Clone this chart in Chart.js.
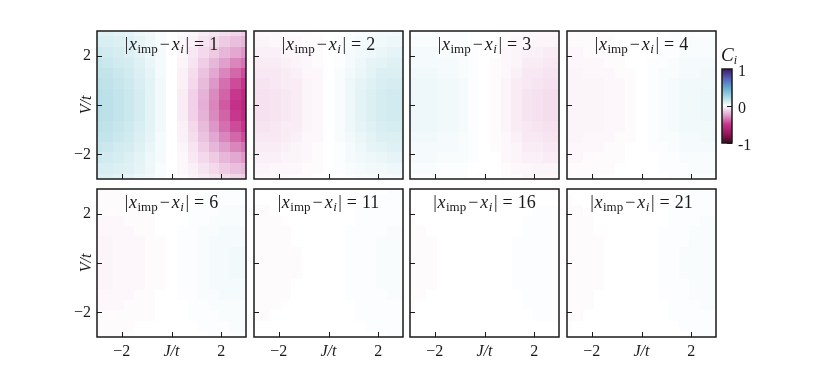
<!DOCTYPE html>
<html>
<head>
<meta charset="utf-8">
<script src="https://cdn.jsdelivr.net/npm/chart.js@4.4.0/dist/chart.umd.min.js"></script>
<style>
  html, body { margin: 0; padding: 0; background: #fff; }
  #fig { position: relative; width: 813px; height: 386px; overflow: hidden; background: #fff; }
  #fig canvas { position: absolute; }
</style>
</head>
<body>
<div id="fig"></div>
<script>
// grid points: J/t across, V/t from top row to bottom row
const jValues = [-3, -2.57, -2.14, -1.71, -1.29, -0.86, -0.43, 0, 0.43, 0.86, 1.29, 1.71, 2.14, 2.57, 3];
const vValues = [3, 2.57, 2.14, 1.71, 1.29, 0.86, 0.43, 0, -0.43, -0.86, -1.29, -1.71, -2.14, -2.57, -3];
const distances = [1, 2, 3, 4, 6, 11, 16, 21];

// C_i (rows follow vValues, columns follow jValues)
const c1 = [
  [.09,.09,.08,.07,.05,.04,.02,0,-.01,-.03,-.05,-.07,-.09,-.11,-.13],
  [.11,.11,.10,.09,.07,.05,.02,0,-.02,-.04,-.07,-.10,-.14,-.17,-.19],
  [.14,.13,.12,.10,.08,.05,.03,0,-.02,-.06,-.10,-.14,-.19,-.23,-.27],
  [.16,.15,.13,.12,.09,.06,.03,0,-.03,-.07,-.13,-.19,-.25,-.31,-.35],
  [.17,.17,.15,.13,.10,.07,.03,0,-.04,-.09,-.16,-.23,-.31,-.38,-.44],
  [.19,.18,.16,.14,.11,.08,.04,0,-.04,-.10,-.18,-.27,-.36,-.44,-.50],
  [.20,.19,.17,.15,.12,.08,.04,0,-.05,-.12,-.20,-.30,-.39,-.49,-.56],
  [.20,.19,.17,.15,.12,.08,.04,0,-.05,-.12,-.21,-.31,-.41,-.51,-.58],
  [.20,.19,.17,.15,.12,.08,.04,0,-.05,-.12,-.20,-.30,-.39,-.49,-.56],
  [.19,.18,.16,.14,.11,.08,.04,0,-.04,-.10,-.18,-.27,-.36,-.44,-.50],
  [.17,.17,.15,.13,.10,.07,.03,0,-.04,-.09,-.16,-.23,-.31,-.38,-.44],
  [.16,.15,.13,.12,.09,.06,.03,0,-.03,-.07,-.13,-.19,-.25,-.31,-.35],
  [.14,.13,.12,.10,.08,.05,.03,0,-.02,-.06,-.10,-.14,-.19,-.23,-.27],
  [.11,.11,.10,.09,.07,.05,.02,0,-.02,-.04,-.07,-.10,-.14,-.17,-.19],
  [.09,.09,.08,.07,.05,.04,.02,0,-.01,-.03,-.05,-.07,-.09,-.11,-.13]
];
const c2 = [
  [-.02,-.02,-.02,-.01,-.01,-.01,0,0,0,.01,.02,.02,.03,.03,.03],
  [-.03,-.03,-.02,-.02,-.02,-.01,-.01,0,.01,.02,.03,.04,.04,.05,.05],
  [-.04,-.04,-.04,-.03,-.03,-.02,-.01,0,.01,.03,.04,.05,.06,.07,.07],
  [-.05,-.05,-.05,-.04,-.03,-.02,-.01,0,.01,.03,.05,.07,.08,.09,.09],
  [-.06,-.06,-.06,-.05,-.04,-.02,-.02,0,.02,.04,.06,.08,.10,.10,.10],
  [-.07,-.07,-.06,-.05,-.05,-.03,-.02,0,.02,.05,.07,.09,.11,.12,.12],
  [-.08,-.08,-.07,-.06,-.05,-.03,-.02,0,.02,.05,.08,.10,.12,.13,.13],
  [-.08,-.08,-.07,-.06,-.05,-.03,-.02,0,.02,.05,.08,.10,.12,.13,.13],
  [-.08,-.08,-.07,-.06,-.05,-.03,-.02,0,.02,.05,.08,.10,.12,.13,.13],
  [-.07,-.07,-.06,-.05,-.05,-.03,-.02,0,.02,.05,.07,.09,.11,.12,.12],
  [-.06,-.06,-.06,-.05,-.04,-.02,-.02,0,.02,.04,.06,.08,.10,.10,.10],
  [-.05,-.05,-.05,-.04,-.03,-.02,-.01,0,.01,.03,.05,.07,.08,.09,.09],
  [-.04,-.04,-.04,-.03,-.03,-.02,-.01,0,.01,.03,.04,.05,.06,.07,.07],
  [-.03,-.03,-.02,-.02,-.02,-.01,-.01,0,.01,.02,.03,.04,.04,.05,.05],
  [-.02,-.02,-.02,-.01,-.01,-.01,0,0,0,.01,.02,.02,.03,.03,.03]
];
const c3 = [
  [.01,.01,.01,.01,.01,.01,0,0,0,-.01,-.01,-.02,-.02,-.02,-.02],
  [.02,.02,.02,.01,.01,.01,0,0,0,-.01,-.02,-.02,-.03,-.03,-.03],
  [.03,.03,.03,.02,.02,.02,.01,0,0,-.02,-.03,-.04,-.04,-.05,-.05],
  [.03,.03,.03,.03,.03,.02,.01,0,-.01,-.02,-.03,-.05,-.05,-.06,-.06],
  [.04,.04,.04,.03,.03,.02,.01,0,-.01,-.02,-.04,-.06,-.06,-.07,-.07],
  [.05,.05,.05,.04,.04,.03,.01,0,-.01,-.03,-.05,-.06,-.07,-.08,-.08],
  [.05,.05,.05,.04,.04,.03,.01,0,-.01,-.03,-.05,-.07,-.08,-.09,-.09],
  [.05,.05,.05,.04,.04,.03,.01,0,-.01,-.03,-.05,-.07,-.08,-.09,-.09],
  [.05,.05,.05,.04,.04,.03,.01,0,-.01,-.03,-.05,-.07,-.08,-.09,-.09],
  [.05,.05,.05,.04,.04,.03,.01,0,-.01,-.03,-.05,-.06,-.07,-.08,-.08],
  [.04,.04,.04,.03,.03,.02,.01,0,-.01,-.02,-.04,-.06,-.06,-.07,-.07],
  [.03,.03,.03,.03,.03,.02,.01,0,-.01,-.02,-.03,-.05,-.05,-.06,-.06],
  [.03,.03,.03,.02,.02,.02,.01,0,0,-.02,-.03,-.04,-.04,-.05,-.05],
  [.02,.02,.02,.01,.01,.01,0,0,0,-.01,-.02,-.02,-.03,-.03,-.03],
  [.01,.01,.01,.01,.01,.01,0,0,0,-.01,-.01,-.02,-.02,-.02,-.02]
];
const c4 = [
  [-.01,-.01,-.01,0,0,0,0,0,0,0,.01,.01,.01,.01,.01],
  [-.01,-.01,-.01,-.01,-.01,0,0,0,0,.01,.01,.01,.02,.02,.02],
  [-.02,-.02,-.01,-.01,-.01,-.01,0,0,0,.01,.01,.02,.02,.02,.02],
  [-.02,-.02,-.02,-.02,-.01,-.01,0,0,.01,.01,.02,.03,.03,.03,.03],
  [-.03,-.03,-.02,-.02,-.02,-.01,-.01,0,.01,.02,.02,.03,.03,.04,.04],
  [-.03,-.03,-.03,-.03,-.02,-.02,-.01,0,.01,.02,.03,.04,.04,.04,.04],
  [-.03,-.03,-.03,-.03,-.02,-.02,-.01,0,.01,.02,.03,.04,.04,.05,.05],
  [-.03,-.03,-.03,-.03,-.02,-.02,-.01,0,.01,.02,.03,.04,.04,.05,.05],
  [-.03,-.03,-.03,-.03,-.02,-.02,-.01,0,.01,.02,.03,.04,.04,.05,.05],
  [-.03,-.03,-.03,-.03,-.02,-.02,-.01,0,.01,.02,.03,.04,.04,.04,.04],
  [-.03,-.03,-.02,-.02,-.02,-.01,-.01,0,.01,.02,.02,.03,.03,.04,.04],
  [-.02,-.02,-.02,-.02,-.01,-.01,0,0,.01,.01,.02,.03,.03,.03,.03],
  [-.02,-.02,-.01,-.01,-.01,-.01,0,0,0,.01,.01,.02,.02,.02,.02],
  [-.01,-.01,-.01,-.01,-.01,0,0,0,0,.01,.01,.01,.02,.02,.02],
  [-.01,-.01,-.01,0,0,0,0,0,0,0,.01,.01,.01,.01,.01]
];
const c6 = [
  [-.01,-.01,-.01,0,0,0,0,0,0,0,0,.01,.01,.01,.01],
  [-.01,-.01,-.01,-.01,0,0,0,0,0,0,.01,.01,.01,.01,.01],
  [-.01,-.01,-.01,-.01,-.01,-.01,0,0,0,.01,.01,.01,.02,.02,.02],
  [-.02,-.02,-.02,-.01,-.01,-.01,0,0,0,.01,.01,.02,.02,.02,.02],
  [-.02,-.02,-.02,-.02,-.01,-.01,0,0,.01,.01,.02,.02,.03,.03,.03],
  [-.03,-.03,-.02,-.02,-.02,-.01,-.01,0,.01,.01,.02,.03,.03,.03,.03],
  [-.03,-.03,-.02,-.02,-.02,-.01,-.01,0,.01,.01,.02,.03,.03,.04,.04],
  [-.03,-.03,-.02,-.02,-.02,-.01,-.01,0,.01,.01,.02,.03,.03,.04,.04],
  [-.03,-.03,-.02,-.02,-.02,-.01,-.01,0,.01,.01,.02,.03,.03,.04,.04],
  [-.03,-.03,-.02,-.02,-.02,-.01,-.01,0,.01,.01,.02,.03,.03,.03,.03],
  [-.02,-.02,-.02,-.02,-.01,-.01,0,0,.01,.01,.02,.02,.03,.03,.03],
  [-.02,-.02,-.02,-.01,-.01,-.01,0,0,0,.01,.01,.02,.02,.02,.02],
  [-.01,-.01,-.01,-.01,-.01,-.01,0,0,0,.01,.01,.01,.02,.02,.02],
  [-.01,-.01,-.01,-.01,0,0,0,0,0,0,.01,.01,.01,.02,.02],
  [-.01,-.01,-.01,0,0,0,0,0,0,0,0,.01,.01,.01,.01]
];
const c11 = [
  [0,0,0,0,0,0,0,0,0,0,0,0,0,.01,.01],
  [0,0,0,0,0,0,0,0,0,0,0,.01,.01,.01,.01],
  [-.01,-.01,0,0,0,0,0,0,0,0,.01,.01,.01,.01,.01],
  [-.01,-.01,-.01,0,0,0,0,0,0,0,.01,.01,.01,.01,.01],
  [-.01,-.01,-.01,-.01,0,0,0,0,0,.01,.01,.01,.01,.02,.02],
  [-.01,-.01,-.01,-.01,0,0,0,0,0,.01,.01,.01,.02,.02,.02],
  [-.01,-.01,-.01,-.01,-.01,0,0,0,0,.01,.01,.01,.02,.02,.02],
  [-.01,-.01,-.01,-.01,-.01,0,0,0,0,.01,.01,.01,.02,.02,.02],
  [-.01,-.01,-.01,-.01,-.01,0,0,0,0,.01,.01,.01,.02,.02,.02],
  [-.01,-.01,-.01,-.01,0,0,0,0,0,.01,.01,.01,.02,.02,.02],
  [-.01,-.01,-.01,-.01,0,0,0,0,0,.01,.01,.01,.01,.02,.02],
  [-.01,-.01,-.01,0,0,0,0,0,0,0,.01,.01,.01,.01,.01],
  [-.01,-.01,0,0,0,0,0,0,0,0,.01,.01,.01,.01,.01],
  [0,0,0,0,0,0,0,0,0,0,0,.01,.01,.01,.01],
  [0,0,0,0,0,0,0,0,0,0,0,0,0,.01,.01]
];
const c16 = [
  [0,0,0,0,0,0,0,0,0,0,0,0,0,0,0],
  [0,0,0,0,0,0,0,0,0,0,0,0,0,0,0],
  [0,0,0,0,0,0,0,0,0,0,0,0,.01,.01,.01],
  [-.01,0,0,0,0,0,0,0,0,0,0,.01,.01,.01,.01],
  [-.01,-.01,0,0,0,0,0,0,0,0,0,.01,.01,.01,.01],
  [-.01,-.01,-.01,0,0,0,0,0,0,0,.01,.01,.01,.01,.01],
  [-.01,-.01,-.01,0,0,0,0,0,0,0,.01,.01,.01,.01,.01],
  [-.01,-.01,-.01,0,0,0,0,0,0,0,.01,.01,.01,.01,.01],
  [-.01,-.01,-.01,0,0,0,0,0,0,0,.01,.01,.01,.01,.01],
  [-.01,-.01,-.01,0,0,0,0,0,0,0,.01,.01,.01,.01,.01],
  [-.01,-.01,0,0,0,0,0,0,0,0,0,.01,.01,.01,.01],
  [-.01,0,0,0,0,0,0,0,0,0,0,.01,.01,.01,.01],
  [0,0,0,0,0,0,0,0,0,0,0,0,.01,.01,.01],
  [0,0,0,0,0,0,0,0,0,0,0,0,0,0,0],
  [0,0,0,0,0,0,0,0,0,0,0,0,0,0,0]
];
const c21 = [
  [0,0,0,0,0,0,0,0,0,0,0,0,.01,.01,.01],
  [-.01,0,0,0,0,0,0,0,0,0,0,.01,.01,.01,.01],
  [-.01,-.01,0,0,0,0,0,0,0,0,.01,.01,.01,.01,.01],
  [-.01,-.01,-.01,0,0,0,0,0,0,0,.01,.01,.01,.02,.02],
  [-.01,-.01,-.01,0,0,0,0,0,0,.01,.01,.01,.02,.02,.02],
  [-.01,-.01,-.01,-.01,0,0,0,0,0,.01,.01,.01,.02,.02,.02],
  [-.01,-.01,-.01,-.01,0,0,0,0,0,.01,.01,.02,.02,.02,.02],
  [-.01,-.01,-.01,-.01,0,0,0,0,0,.01,.01,.02,.02,.02,.02],
  [-.01,-.01,-.01,-.01,0,0,0,0,0,.01,.01,.02,.02,.02,.02],
  [-.01,-.01,-.01,-.01,0,0,0,0,0,.01,.01,.01,.02,.02,.02],
  [-.01,-.01,-.01,0,0,0,0,0,0,.01,.01,.01,.02,.02,.02],
  [-.01,-.01,-.01,0,0,0,0,0,0,0,.01,.01,.01,.02,.02],
  [-.01,-.01,0,0,0,0,0,0,0,0,.01,.01,.01,.01,.01],
  [-.01,0,0,0,0,0,0,0,0,0,0,.01,.01,.01,.01],
  [0,0,0,0,0,0,0,0,0,0,0,0,.01,.01,.01]
];
const panels = [c1, c2, c3, c4, c6, c11, c16, c21];

const jTicks = [-2, 0, 2];
const vTicks = [-2, 0, 2];
const cbarTicks = [-1, 0, 1];

// diverging colormap: dark red -> magenta -> white -> cyan -> blue -> indigo
const cmapStops = [
  [-1.0, [62, 10, 32]],
  [-0.75, [150, 24, 90]],
  [-0.5, [197, 51, 138]],
  [-0.25, [224, 160, 205]],
  [0, [255, 255, 255]],
  [0.25, [168, 216, 226]],
  [0.5, [98, 168, 208]],
  [0.75, [86, 96, 184]],
  [1.0, [58, 26, 106]]
];

function cmap(v) {
  v = Math.max(-1, Math.min(1, v));
  for (let k = 1; k < cmapStops.length; k++) {
    const [v1, a] = cmapStops[k - 1], [v2, b] = cmapStops[k];
    if (v <= v2) {
      const t = (v - v1) / (v2 - v1);
      const c = a.map((x, n) => Math.round(x + (b[n] - x) * t));
      return `rgb(${c[0]},${c[1]},${c[2]})`;
    }
  }
  return 'rgb(58,26,106)';
}

const SERIF = "'Liberation Serif', 'DejaVu Serif', serif";
const INK = '#1a1a1a';

const colLeft = [97, 254, 410, 567];
const rowTop = [31, 189];
const boxW = 149, boxH = 148;
const axW = 45, axH = 32;

// cell boundaries halfway between neighbouring grid points
function span(arr, i) {
  const lo = i > 0 ? (arr[i - 1] + arr[i]) / 2 : arr[0] - (arr[1] - arr[0]) / 2;
  const hi = i < arr.length - 1 ? (arr[i] + arr[i + 1]) / 2 : arr[i] + (arr[i] - arr[i - 1]) / 2;
  return [lo, hi];
}

const heatmap = {
  id: 'heatmap',
  beforeDatasetsDraw(chart) {
    const { ctx, chartArea: a, scales: { x, y } } = chart;
    ctx.save();
    ctx.beginPath();
    ctx.rect(a.left, a.top, a.right - a.left, a.bottom - a.top);
    ctx.clip();
    chart.data.datasets[0].data.forEach(p => {
      const [j0, j1] = span(jValues, p.i);
      const [v0, v1] = span(vValues, p.k);
      const x0 = Math.round(x.getPixelForValue(j0)), x1 = Math.round(x.getPixelForValue(j1));
      const y0 = Math.round(y.getPixelForValue(v0)), y1 = Math.round(y.getPixelForValue(v1));
      ctx.fillStyle = cmap(p.c);
      ctx.fillRect(Math.min(x0, x1), Math.min(y0, y1), Math.abs(x1 - x0), Math.abs(y1 - y0));
    });
    ctx.restore();
  }
};

function drawTitle(ctx, cx, base, d) {
  const parts = [
    ['|', 'normal', 18, 0, 0.5],
    ['x', 'italic', 18, 0, 0.5],
    ['imp', 'normal', 13, 3, 2],
    ['\u2212', 'normal', 18, 0, 2],
    ['x', 'italic', 18, 0, 0.5],
    ['i', 'italic', 13, 3, 1.5],
    ['|', 'normal', 18, 0, 5],
    ['=', 'normal', 18, 0, 5],
    [String(d), 'normal', 18, 0, 0]
  ];
  let total = 0;
  const widths = parts.map(([t, st, sz, dy, gap]) => {
    ctx.font = `${st} ${sz}px ${SERIF}`;
    const w = ctx.measureText(t).width;
    total += w + gap;
    return w;
  });
  let xp = cx - total / 2;
  ctx.fillStyle = INK;
  ctx.textBaseline = 'alphabetic';
  ctx.textAlign = 'left';
  parts.forEach(([t, st, sz, dy, gap], n) => {
    ctx.font = `${st} ${sz}px ${SERIF}`;
    ctx.fillText(t, xp, base + dy);
    xp += widths[n] + gap;
  });
}

const frame = {
  id: 'frame',
  afterDraw(chart, args, opts) {
    const { ctx, chartArea: a, scales: { x, y } } = chart;
    ctx.save();
    ctx.strokeStyle = INK;
    ctx.lineWidth = 1;
    jTicks.forEach(v => {
      const px = Math.round(x.getPixelForValue(v)) + 0.5;
      ctx.beginPath(); ctx.moveTo(px, a.bottom); ctx.lineTo(px, a.bottom - 5); ctx.stroke();
    });
    vTicks.forEach(v => {
      const py = Math.round(y.getPixelForValue(v)) + 0.5;
      ctx.beginPath(); ctx.moveTo(a.left, py); ctx.lineTo(a.left + 5, py); ctx.stroke();
    });
    ctx.lineWidth = 1.5;
    ctx.strokeRect(a.left, a.top, a.right - a.left, a.bottom - a.top);
    drawTitle(ctx, (a.left + a.right) / 2, a.top + 19, opts.d);
    ctx.restore();
  }
};

const fig = document.getElementById('fig');

function addCanvas(left, top, w, h) {
  const cv = document.createElement('canvas');
  cv.width = w; cv.height = h;
  cv.style.left = left + 'px'; cv.style.top = top + 'px';
  cv.style.width = w + 'px'; cv.style.height = h + 'px';
  fig.appendChild(cv);
  return cv;
}

function fixHeight(s, h) { s.height = h; s.paddingLeft = 0; s.paddingRight = 0; }
function fixWidth(s, w) { s.width = w; s.paddingTop = 0; s.paddingBottom = 0; }

panels.forEach((grid, n) => {
  const col = n % 4, row = Math.floor(n / 4);
  const cv = addCanvas(colLeft[col] - axW, rowTop[row] - 2, axW + boxW + 3, 2 + boxH + axH);
  const cells = [];
  grid.forEach((r, k) => r.forEach((c, i) => cells.push({ x: jValues[i], y: vValues[k], c, i, k })));
  new Chart(cv, {
    type: 'scatter',
    data: { datasets: [{ data: cells, pointRadius: 0, pointHoverRadius: 0 }] },
    plugins: [heatmap, frame],
    options: {
      responsive: false,
      animation: false,
      events: [],
      layout: { padding: { top: 2, right: 3, left: 0, bottom: 0 } },
      plugins: { legend: { display: false }, tooltip: { enabled: false }, frame: { d: distances[n] } },
      scales: {
        x: {
          type: 'linear', min: -3, max: 3, position: 'bottom',
          grid: { display: false, drawTicks: false }, border: { display: false },
          afterFit: s => fixHeight(s, axH),
          afterBuildTicks: s => { s.ticks = jTicks.map(v => ({ value: v })); },
          ticks: {
            display: row === 1, padding: 5, color: INK, maxRotation: 0, autoSkip: false,
            font: ctx => ({ family: SERIF, size: 16, style: ctx.tick && ctx.tick.value === 0 ? 'italic' : 'normal' }),
            callback: v => v === 0 ? 'J/t' : (v < 0 ? '\u2212' + Math.abs(v) : String(v))
          }
        },
        y: {
          type: 'linear', min: -3, max: 3, position: 'left',
          grid: { display: false, drawTicks: false }, border: { display: false },
          afterFit: s => fixWidth(s, axW),
          afterBuildTicks: s => { s.ticks = vTicks.map(v => ({ value: v })); },
          ticks: {
            display: col === 0, padding: 6, color: INK, autoSkip: false,
            font: { family: SERIF, size: 16 },
            callback: v => v === 0 ? '' : (v < 0 ? '\u2212' + Math.abs(v) : String(v))
          },
          title: {
            display: col === 0, text: 'V/t', color: INK,
            font: { family: SERIF, size: 16, style: 'italic' },
            padding: { top: 25, bottom: 0 }
          }
        }
      }
    }
  });
});

// colour bar
const cbarFrame = {
  id: 'cbarFrame',
  afterDraw(chart) {
    const { ctx, chartArea: a, scales: { y } } = chart;
    ctx.save();
    ctx.strokeStyle = INK;
    ctx.lineWidth = 1;
    cbarTicks.forEach(v => {
      const py = Math.round(y.getPixelForValue(v)) + 0.5;
      ctx.beginPath(); ctx.moveTo(a.right, py); ctx.lineTo(a.right - 5, py); ctx.stroke();
    });
    ctx.lineWidth = 1.5;
    ctx.strokeRect(a.left, a.top, a.right - a.left, a.bottom - a.top);
    ctx.fillStyle = INK;
    ctx.textBaseline = 'alphabetic';
    ctx.font = `italic 19px ${SERIF}`;
    ctx.fillText('C', a.left - 1, a.top - 8);
    const w = ctx.measureText('C').width;
    ctx.font = `italic 12px ${SERIF}`;
    ctx.fillText('i', a.left - 1 + w, a.top - 5);
    ctx.restore();
  }
};

const cbCanvas = addCanvas(720, 45, 44, 110);
new Chart(cbCanvas, {
  type: 'bar',
  data: {
    labels: [''],
    datasets: [{
      data: [[-1, 1]],
      barPercentage: 1, categoryPercentage: 1, borderWidth: 0,
      backgroundColor: ctx => {
        const a = ctx.chart.chartArea;
        if (!a) return 'white';
        const g = ctx.chart.ctx.createLinearGradient(0, a.bottom, 0, a.top);
        cmapStops.forEach(([v]) => g.addColorStop((v + 1) / 2, cmap(v)));
        return g;
      }
    }]
  },
  plugins: [cbarFrame],
  options: {
    responsive: false,
    animation: false,
    events: [],
    layout: { padding: { top: 24, right: 0, left: 2, bottom: 12 } },
    plugins: { legend: { display: false }, tooltip: { enabled: false } },
    scales: {
      x: { display: false },
      y: {
        min: -1, max: 1, position: 'right',
        grid: { display: false, drawTicks: false }, border: { display: false },
        afterFit: s => fixWidth(s, 32),
        afterBuildTicks: s => { s.ticks = cbarTicks.map(v => ({ value: v })); },
        ticks: {
          padding: 6, color: INK, labelOffset: 3,
          font: { family: SERIF, size: 16 },
          callback: v => String(v)
        }
      }
    }
  }
});
</script>
</body>
</html>
